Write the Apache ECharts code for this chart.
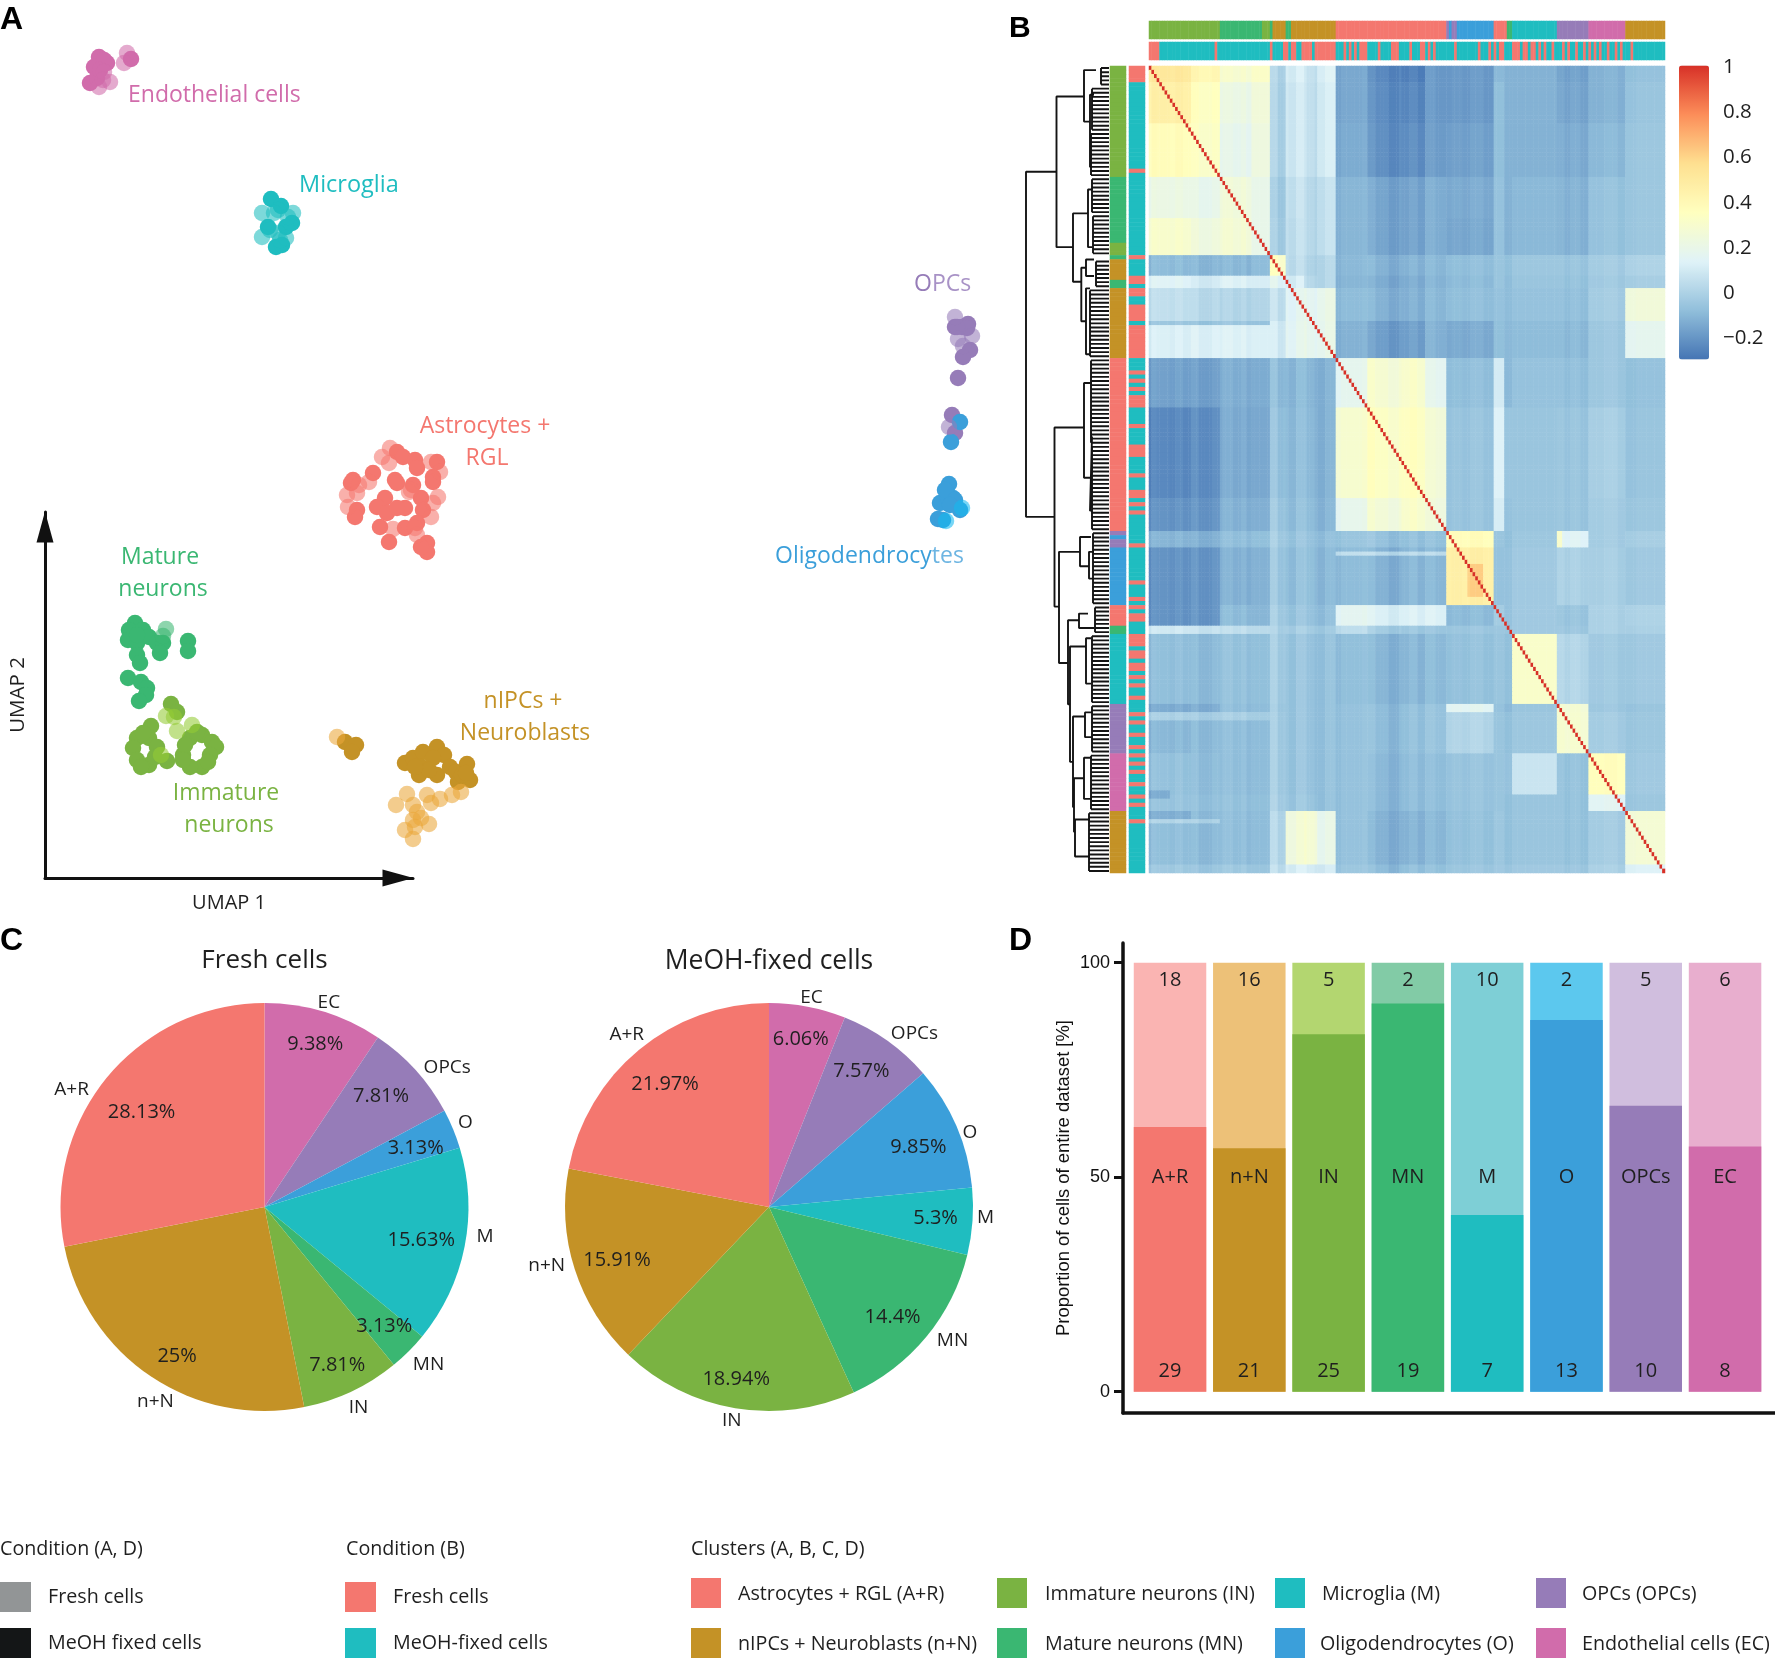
<!DOCTYPE html>
<html><head><meta charset="utf-8">
<style>html,body{margin:0;padding:0;background:#fff}#c{width:1775px;height:1658px}</style>
<script src="https://cdn.jsdelivr.net/npm/echarts@6/dist/echarts.min.js"></script>
</head><body><div id="c"></div>
<script>
// ---------- colours ----------
const COL = {AR:'#F4776F',NN:'#C49226',IN:'#7AB342',MN:'#3AB772',M:'#1FBDC0',O:'#3B9FDA',OPC:'#967CB8',EC:'#D16CAB'};
const LIGHT = {AR:'#FAB4B2',NN:'#EDC178',IN:'#B3D670',MN:'#82CBA6',M:'#7ECFD6',O:'#5CC8EE',OPC:'#D0BEDE',EC:'#E8AECE'};
const SCATTER_FRESH = {AR:'#F4776F',NN:'#EBA73A',IN:'#95CC36',MN:'#3AB772',M:'#1FBDC0',O:'#14B8F0',OPC:'#967CB8',EC:'#D16CAB'};
// ---------- A: UMAP points (UMAP1, UMAP2) ----------
const ecMeoh=[[54,821],[62,815],[49,811],[45,795],[86,819],[52,800],[59,818],[55,808]];
const ecFresh=[[59,806],[65,796],[54,791],[82,825],[79,815],[58,798]];
const mMeoh=[[226,679],[236,672],[223,651],[247,655],[241,651],[231,631],[237,633]];
const mFresh=[[217,665],[233,668],[248,665],[217,641],[241,640],[233,645],[225,648],[243,661],[235,638],[229,665]];
const opcMeoh=[[910,551],[923,554],[917,551],[925,528],[918,521],[913,500],[907,463],[910,445],[922,550],[912,551]];
const opcFresh=[[910,561],[927,542],[913,539],[918,532],[904,451]];
const oMeoh=[[904,394],[902,385],[908,380],[895,375],[903,380],[915,368],[893,359],[898,358],[906,436],[915,456],[900,388],[910,378],[905,373]];
const oFresh=[[917,370],[901,357]];
const arMeoh=[[352,426],[358,421],[370,418],[372,410],[392,416],[328,405],[308,398],[350,398],[388,401],[306,395],[312,368],[310,361],[340,380],[332,371],[352,395],[368,393],[388,396],[376,380],[378,368],[360,370],[342,365],[335,351],[360,350],[372,355],[344,336],[382,335],[382,326],[376,331],[352,370]];
const arFresh=[[345,430],[337,421],[344,415],[386,416],[395,406],[302,383],[312,385],[303,371],[324,396],[364,386],[393,381],[386,361],[348,349],[372,343],[370,350],[314,393],[388,375],[366,388]];
const mnMeoh=[[90,255],[84,248],[98,248],[83,238],[92,235],[104,241],[112,235],[118,235],[115,225],[92,223],[95,215],[143,237],[143,227],[83,200],[96,196],[102,190],[101,183],[94,177],[92,243]];
const mnFresh=[[121,249],[118,242]];
const inMeoh=[[126,174],[132,166],[106,152],[92,140],[104,140],[88,130],[112,131],[92,118],[104,113],[110,121],[122,117],[145,140],[157,143],[167,136],[171,131],[165,123],[157,111],[145,111],[138,123],[140,133],[152,146],[138,118],[163,116],[98,145],[96,111]];
const inFresh=[[121,162],[129,161],[132,147],[147,153],[116,123]];
const nnMeoh=[[300,136],[311,133],[307,126],[360,115],[368,120],[378,126],[392,131],[399,123],[376,111],[374,103],[392,103],[405,111],[411,106],[422,114],[413,96],[425,98],[388,120],[384,108],[417,103],[370,111],[421,105]];
const nnFresh=[[292,141],[362,84],[351,73],[368,73],[382,83],[386,75],[395,79],[407,83],[416,86],[372,66],[368,58],[384,54],[376,60],[360,48],[368,39],[370,51]];
// ---------- B: heatmap blocks ----------
const colEdges=[0,16,27,39,46,52,59,64,71,83,96,105,113,131,135,138,155,167,181,196];
const rowEdges=[0,4,14,27,37,46,51,54,62,71,83,105,113,117,131,136,138,155,157,167,177,181,194,196];
const blockValues=[
[.5,.41,.28,.33,-.02,.1,.06,.13,-.17,-.24,-.27,-.2,-.2,-.1,-.1,-.12,-.16,-.15,-.1],
[.45,.35,.2,.26,-.03,.08,.05,.11,-.17,-.23,-.25,-.2,-.2,-.08,-.1,-.12,-.15,-.15,-.09],
[.36,.33,.17,.24,-.03,.08,.05,.11,-.16,-.22,-.23,-.19,-.18,-.08,-.1,-.12,-.13,-.13,-.08],
[.2,.19,.24,.2,-.06,.05,.02,.06,-.13,-.16,-.17,-.14,-.15,-.07,-.1,-.1,-.11,-.1,-.08],
[.29,.24,.26,.2,-.05,.04,.02,.06,-.13,-.16,-.17,-.14,-.16,-.07,-.1,-.1,-.11,-.1,-.08],
[-.1,-.1,-.11,-.08,.3,.03,0,.02,-.12,-.12,-.12,-.11,-.09,-.06,-.06,-.05,-.05,-.06,-.03],
[.13,.1,.12,.12,.12,.1,.02,.02,-.13,-.14,-.14,-.12,-.1,-.06,-.07,-.06,-.06,-.07,-.05],
[.04,.03,0,.02,.03,.14,.16,.2,-.11,-.12,-.13,-.11,-.09,-.07,-.07,-.07,-.07,-.06,.22],
[.11,.13,.12,.13,.07,.15,.17,.19,-.14,-.18,-.18,-.13,-.15,-.08,-.08,-.09,-.09,-.08,.14],
[-.18,-.17,-.14,-.13,-.11,-.11,-.11,-.12,.15,.28,.3,.16,-.09,.1,-.08,-.07,-.07,-.08,-.1],
[-.25,-.22,-.15,-.14,-.09,-.1,-.1,-.12,.27,.33,.34,.25,-.07,.13,-.04,-.06,-.05,-.05,-.09],
[-.22,-.2,-.13,-.12,-.07,-.09,-.09,-.11,.16,.26,.3,.23,-.07,.11,-.05,-.06,-.05,-.06,-.08],
[-.12,-.12,-.09,-.07,-.05,-.07,-.07,-.08,-.08,-.07,-.08,-.08,.36,-.06,-.06,-.05,.15,-.06,-.05],
[-.22,-.2,-.13,-.11,-.07,-.09,-.08,-.1,-.11,-.12,-.11,-.11,.45,-.07,-.05,-.04,0,-.05,-.07],
[-.22,-.2,-.1,-.1,-.05,-.07,-.07,-.08,.14,.12,.12,.12,-.1,-.03,-.05,-.04,-.05,-.04,-.03],
[.08,.07,.04,.04,-.03,-.03,-.03,-.04,.02,-.03,-.05,-.06,-.06,-.05,-.04,-.04,-.04,-.04,-.04],
[-.09,-.09,-.08,-.07,-.05,-.07,-.07,-.07,-.1,-.11,-.11,-.1,-.08,-.06,-.06,.31,.02,-.07,-.07],
[-.15,-.13,-.09,-.08,-.06,-.07,-.07,-.07,-.09,-.09,-.08,-.07,.15,-.07,-.08,-.06,.28,-.08,-.09],
[-.11,-.09,-.09,-.08,-.05,-.07,-.07,-.07,-.09,-.09,-.08,-.07,0,-.06,-.06,-.05,.29,-.06,-.08],
[-.08,-.08,-.09,-.08,-.05,-.07,-.07,-.07,-.09,-.1,-.09,-.09,-.07,-.06,-.05,.07,-.06,.33,-.07],
[-.07,-.07,-.08,-.07,-.04,-.06,-.06,-.07,-.09,-.1,-.09,-.09,-.07,-.06,-.06,-.06,-.06,.12,-.08],
[-.09,-.09,-.09,-.08,-.01,.24,.27,.19,-.09,-.12,-.12,-.11,-.08,-.05,-.06,-.06,-.06,-.06,.24],
[-.05,-.05,-.05,-.05,.02,.1,.1,.1,-.07,-.09,-.08,-.08,-.06,-.04,-.04,-.04,-.04,-.04,.1]
];
const columnShadeRuns=[[1,-.02],[2,.02],[5,.01],[2,0],[3,.02],[3,0],[3,.01],[5,-.02],[4,0],[4,.02],[3,0],[2,.02],[9,-.01],[3,.05],[2,0],[2,.01],[3,-.01],[4,.03],[3,0],[4,-.02],[4,.01],[2,0],[8,.02],[5,.03],[5,0],[4,-.03],[3,0],
[1,0],[3,.02],[3,-.01],[4,.02],[6,0],[4,.01],[3,0],[5,.02],[8,0],[3,-.02],[17,0],[3,0],[2,-.02],[4,0],[3,-.02],[6,.03],[5,.04],[7,.02],[11,.03]];
// streaks and patches seen in the heatmap: [rowStart,rowEnd,colStart,colEnd,value]
const heatPatches=[[118,119,71,113,.03],[157,159,0,46,-.02],[183,184,0,27,0],[176,178,0,8,-.15],[181,183,0,16,-.14],[62,63,0,46,-.06],[121,129,121,127,.6],[113,117,155,157,.3]];
const diagonalValue=1;
const heatColors=['#4575B4','#91BFDB','#E0F3F8','#FFFFBF','#FEE090','#FC8D59','#D73027'];
const scaleTicks=['1','0.8','0.6','0.4','0.2','0','\u22120.2'];
const scaleTickValues=[1,.8,.6,.4,.2,0,-.2];
// cluster order along heatmap (run lengths)
const clusterRuns=[['IN',27],['MN',16],['IN',3],['MN',1],['NN',5],['MN',2],['NN',17],['AR',42],['OPC',1],['O',1],['OPC',2],['O',14],['AR',5],['MN',2],['M',17],['OPC',12],['EC',14],['NN',15]];
// condition along heatmap: alternating fresh/MeOH run lengths, starts with fresh
const conditionRuns=[4,21,1,20,1,4,2,1,2,2,4,1,8,3,1,1,1,1,1,1,3,4,1,4,3,4,1,3,2,1,1,1,1,7,1,8,1,3,1,1,1,1,2,3,3,1,2,1,2,1,1,1,1,2,1,3,1,1,1,2,1,2,1,1,1,1,1,1,1,2,1,2,1,1,1,3,1,12];
// dendrogram: [height, rowA, childHeightA, rowB, childHeightB]
const dendroNodes=[[83,25.7,52.5,109.5,54.5],[52.5,7.4,25,44,36],[25,1,13,13.5,19],[19,7,15,24.5,17],[36,35.8,21,52.4,27.7],[21,30,17,44,17],[27.7,49,23,62,23],[23,47,15,51,15],[23,54,19,70,19],[54.5,87.8,25,131.3,50],[25,77,17,100,19],[19,90,17,108,17],[50,118,29,145,41],[29,114.4,18,121.5,20],[20,118,15,124.5,15],[41,134.6,30,155,39],[30,133,21,136.5,15],[39,141,23,169,36],[23,139,18,150,18],[36,158,24,180,35],[24,157,17,163,17],[35,173,25,186,34],[25,168,17,178,17],[34,183,19,192,19]];
const combSpans=[[0,5,8],[5,16,17],[16,27,18],[27,36,17],[36,46,16],[47,54,13],[54,71,19],[71,92,18],[92,113,17],[113,131,16],[131,138,14],[138,155,17],[155,167,17],[167,181,18],[181,196,20]];
// ---------- C: pies ----------
const pieNames=['EC','OPCs','O','M','MN','IN','n+N','A+R'];
const pieKeys=['EC','OPC','O','M','MN','IN','NN','AR'];
const freshPct=[9.38,7.81,3.13,15.63,3.13,7.81,25,28.13];
const meohPct=[6.06,7.57,9.85,5.3,14.4,18.94,15.91,21.97];
const freshPctNudge=[[2,-2],[-8,2],[-4,6],[-8,0],[1,0],[1,6],[6,10],[7,12]];
const meohPctNudge=[[0,-3],[-5,1],[-5,6],[-1,-1],[-6,3],[-5,7],[8,2],[3,7]];
const freshNameNudge=[[-1,11],[16,12],[-7,2],[0,-14],[5,-2],[-2,-3],[16,8],[-19,25]];
const meohNameNudge=[[0,12],[15,10],[-6,14],[-8,-5],[10,-10],[0,-8],[-8,-10],[1,1]];
// ---------- D: bars ----------
const barNames=['A+R','n+N','IN','MN','M','O','OPCs','EC'];
const barKeys=['AR','NN','IN','MN','M','O','OPC','EC'];
const barMeoh=[29,21,25,19,7,13,10,8];
const barFresh=[18,16,5,2,10,2,5,6];
const barTicks=[0,50,100];

const FONT='"Open Sans"';
const TXT='#1f1f1f';

// ---------- helpers ----------
function txt(x,y,s,fill,size,align,extra){return Object.assign({type:'text',x,y,silent:true,style:{text:s,fill,font:size+'px '+FONT,textAlign:align||'left',textVerticalAlign:'middle'}},extra||{});}
function bold(x,y,s,size){return {type:'text',x,y,silent:true,style:{text:s,fill:'#000',font:'bold '+size+'px "Liberation Sans"',textAlign:'left',textVerticalAlign:'middle'}};}
function rect(x,y,w,h,c){return {type:'rect',shape:{x,y,width:w,height:h},style:{fill:c},silent:true};}
function twoTone(x,y,a,b,ca,cb,size){return {type:'text',x,y,silent:true,style:{text:'{a|'+a+'}{b|'+b+'}',textVerticalAlign:'middle',font:size+'px '+FONT,
  rich:{a:{fill:ca,font:size+'px '+FONT},b:{fill:cb,font:size+'px '+FONT}}}};}

// expand blocks
function bandIndex(edges,i){let k=0;while(i>=edges[k+1])k++;return k;}
const columnShade=[];columnShadeRuns.forEach(([n,s])=>{for(let i=0;i<n;i++)columnShade.push(s);});
const heatData=[];
for(let r=0;r<196;r++)for(let c=0;c<196;c++){
  let v=blockValues[bandIndex(rowEdges,r)][bandIndex(colEdges,c)];
  heatPatches.forEach(p=>{if(r>=p[0]&&r<p[1]&&c>=p[2]&&c<p[3])v=p[4];});
  v+=columnShade[c];
  if(r===c)v=diagonalValue;
  heatData.push([c,r,v]);
}
const clusterSeq=[];clusterRuns.forEach(([k,n])=>{for(let i=0;i<n;i++)clusterSeq.push(k);});
const condSeq=[];conditionRuns.forEach((n,j)=>{for(let i=0;i<n;i++)condSeq.push(j%2===0?COL.AR:COL.M);});
const idx=Array.from({length:196},(_,i)=>i);
function strip(seq,vertical,colorOf){return seq.map((k,i)=>({value:vertical?[0,i,1]:[i,0,1],itemStyle:{color:colorOf(k)}}));}

// dendrogram path
const dendro=[];
function seg(pts){pts.forEach(p=>dendro.push(p));dendro.push(['-','-']);}
dendroNodes.forEach(([h,ra,ha,rb,hb])=>seg([[ha,ra],[h,ra],[h,rb],[hb,rb]]));
combSpans.forEach(([a,b,h])=>{seg([[h,a+.5],[h,b-.5]]);for(let i=a;i<b;i++)seg([[0,i+.5],[h,i+.5]]);});

// UMAP series
function umap(data,key,fresh){return {type:'scatter',xAxisIndex:0,yAxisIndex:0,data,symbolSize:16.5,clip:false,z:fresh?3:2,silent:true,
  itemStyle:{color:fresh?SCATTER_FRESH[key]:COL[key],opacity:fresh?.58:1}};}
function pieBase(cx,vals){return {type:'pie',center:[cx,1207],radius:[0,204],startAngle:90,clockwise:true,silent:true,label:{show:false},labelLine:{show:false},
  data:vals.map((v,i)=>({value:v,name:pieNames[i],itemStyle:{color:COL[pieKeys[i]]}}))};}
function pieRing(cx,vals,r0,r1,fmt,size,nudge){return {type:'pie',center:[cx,1207],radius:[r0,r1],startAngle:90,clockwise:true,silent:true,z:5,avoidLabelOverlap:false,
  labelLine:{show:false},itemStyle:{color:'rgba(0,0,0,0)'},
  label:{show:true,position:'inside',formatter:fmt,color:TXT,fontFamily:FONT,fontSize:size},
  data:vals.map((v,i)=>({value:v,name:pieNames[i],label:{offset:nudge[i]}}))};}

const LEG=19.7, LAB=23;
const graphicEls=[
  bold(0,20,'A',32),bold(1009,29,'B',30),bold(0,941,'C',32),bold(1009,941,'D',32),
  txt(128,95,'Endothelial cells',COL.EC,LAB),
  txt(299,185,'Microglia',COL.M,23.5),
  txt(485,426,'Astrocytes +',COL.AR,LAB,'center'),txt(487,458,'RGL',COL.AR,LAB,'center'),
  twoTone(914,284,'O','PCs','#967CB8','#A892C6',LAB),
  twoTone(775,556,'Oligodendrocy','tes','#3B9FDA','#6DB5E2',LAB),
  txt(160,557,'Mature',COL.MN,LAB,'center'),txt(163,589,'neurons',COL.MN,LAB,'center'),
  txt(523,701,'nIPCs +',COL.NN,LAB,'center'),txt(525,733,'Neuroblasts',COL.NN,LAB,'center'),
  txt(226,793,'Immature',COL.IN,LAB,'center'),txt(229,825,'neurons',COL.IN,LAB,'center'),
  txt(264.5,961,'Fresh cells',TXT,26,'center'),txt(769,961,'MeOH-fixed cells',TXT,26.5,'center'),
  // legend
  txt(0,1549,'Condition (A, D)',TXT,LEG),txt(346,1549,'Condition (B)',TXT,LEG),txt(691,1549,'Clusters (A, B, C, D)',TXT,LEG),
  rect(0,1582,31,30,'#929596'),txt(48,1597,'Fresh cells',TXT,LEG),
  rect(0,1628,31,30,'#141617'),txt(48,1643,'MeOH fixed cells',TXT,LEG),
  rect(345,1582,31,30,COL.AR),txt(393,1597,'Fresh cells',TXT,LEG),
  rect(345,1628,31,30,COL.M),txt(393,1643,'MeOH-fixed cells',TXT,LEG),
  rect(691,1578,30,30,COL.AR),txt(738,1594,'Astrocytes + RGL (A+R)',TXT,LEG),
  rect(691,1628,30,30,COL.NN),txt(738,1644,'nIPCs + Neuroblasts (n+N)',TXT,LEG),
  rect(997,1578,30,30,COL.IN),txt(1045,1594,'Immature neurons (IN)',TXT,LEG),
  rect(997,1628,30,30,COL.MN),txt(1045,1644,'Mature neurons (MN)',TXT,LEG),
  rect(1275,1578,30,30,COL.M),txt(1322,1594,'Microglia (M)',TXT,LEG),
  rect(1275,1628,30,30,COL.O),txt(1320,1644,'Oligodendrocytes (O)',TXT,LEG),
  rect(1536,1578,30,30,COL.OPC),txt(1582,1594,'OPCs (OPCs)',TXT,LEG),
  rect(1536,1628,30,30,COL.EC),txt(1582,1644,'Endothelial cells (EC)',TXT,LEG)
];
scaleTickValues.forEach((v,i)=>graphicEls.push(txt(1723,67+(1-v)/1.3*294,scaleTicks[i],TXT,20.5)));

const hide={show:false};
const option={
  animation:false,backgroundColor:'#fff',textStyle:{fontFamily:FONT},
  grid:[
    {left:45,top:512,width:368,height:366},        // 0 UMAP
    {left:1149,top:66,width:516,height:807},       // 1 heat
    {left:1149,top:21,width:516,height:18},        // 2 top cluster
    {left:1149,top:42,width:516,height:18},        // 3 top condition
    {left:1110,top:66,width:16,height:807},        // 4 left cluster
    {left:1129,top:66,width:16,height:807},        // 5 left condition
    {left:1026,top:66,width:83,height:807},        // 6 dendro
    {left:1123,top:943,width:652,height:470}       // 7 bars
  ],
  xAxis:[
    {gridIndex:0,type:'value',min:0,max:368,name:'UMAP 1',nameLocation:'center',nameGap:15,nameTextStyle:{color:TXT,fontSize:20,fontFamily:FONT},
      axisLine:{show:true,onZero:false,lineStyle:{color:'#111',width:3},symbol:['none','triangle'],symbolSize:[17,31],symbolOffset:[0,-15]},axisTick:hide,axisLabel:hide,splitLine:hide},
    {gridIndex:1,type:'category',data:idx,show:false},
    {gridIndex:2,type:'category',data:idx,show:false},
    {gridIndex:3,type:'category',data:idx,show:false},
    {gridIndex:4,type:'category',data:[0],show:false},
    {gridIndex:5,type:'category',data:[0],show:false},
    {gridIndex:6,type:'value',min:0,max:83,inverse:true,show:false},
    {gridIndex:7,type:'value',min:-0.593,max:7.63,axisLine:{show:true,onZero:false,lineStyle:{color:'#111',width:3.5}},axisTick:hide,axisLabel:hide,splitLine:hide}
  ],
  yAxis:[
    {gridIndex:0,type:'value',min:0,max:366,name:'UMAP 2',nameLocation:'center',nameGap:16,nameTextStyle:{color:TXT,fontSize:20.5,fontFamily:FONT},
      axisLine:{show:true,onZero:false,lineStyle:{color:'#111',width:3},symbol:['none','triangle'],symbolSize:[17,31],symbolOffset:[0,-15]},axisTick:hide,axisLabel:hide,splitLine:hide},
    {gridIndex:1,type:'category',data:idx,inverse:true,show:false},
    {gridIndex:2,type:'category',data:[0],show:false},
    {gridIndex:3,type:'category',data:[0],show:false},
    {gridIndex:4,type:'category',data:idx,inverse:true,show:false},
    {gridIndex:5,type:'category',data:idx,inverse:true,show:false},
    {gridIndex:6,type:'value',min:0,max:196,inverse:true,show:false},
    {gridIndex:7,type:'value',min:-4.96,max:104.6,name:'Proportion of cells of entire dataset [%]',nameLocation:'center',nameGap:50,
      nameTextStyle:{color:'#111',fontSize:18.4,fontFamily:'"Liberation Sans"'},
      axisLine:{show:true,onZero:false,lineStyle:{color:'#111',width:3.5}},
      axisTick:{show:true,length:9,lineStyle:{color:'#111',width:3},customValues:barTicks},
      axisLabel:{show:true,color:'#111',fontSize:18,fontFamily:'"Liberation Sans"',margin:13,customValues:barTicks},splitLine:hide}
  ],
  visualMap:[{type:'continuous',seriesIndex:0,min:-.3,max:1,calculable:false,left:1664,top:50.4,itemWidth:30,itemHeight:294,text:null,showLabel:false,
    textStyle:{color:'rgba(0,0,0,0)',fontSize:1},inRange:{color:heatColors},realtime:false,hoverLink:false}],
  series:[
    {type:'heatmap',xAxisIndex:1,yAxisIndex:1,data:heatData,progressive:0,silent:true},
    {type:'heatmap',xAxisIndex:2,yAxisIndex:2,data:strip(clusterSeq,false,k=>COL[k]),progressive:0,silent:true},
    {type:'heatmap',xAxisIndex:3,yAxisIndex:3,data:strip(condSeq,false,c=>c),progressive:0,silent:true},
    {type:'heatmap',xAxisIndex:4,yAxisIndex:4,data:strip(clusterSeq,true,k=>COL[k]),progressive:0,silent:true},
    {type:'heatmap',xAxisIndex:5,yAxisIndex:5,data:strip(condSeq,true,c=>c),progressive:0,silent:true},
    {type:'line',xAxisIndex:6,yAxisIndex:6,data:dendro,showSymbol:false,connectNulls:false,clip:false,silent:true,lineStyle:{color:'#141414',width:1.9}},
    umap(ecMeoh,'EC'),umap(ecFresh,'EC',1),umap(mMeoh,'M'),umap(mFresh,'M',1),umap(opcMeoh,'OPC'),umap(opcFresh,'OPC',1),
    umap(oMeoh,'O'),umap(oFresh,'O',1),umap(arMeoh,'AR'),umap(arFresh,'AR',1),umap(mnMeoh,'MN'),umap(mnFresh,'MN',1),
    umap(inMeoh,'IN'),umap(inFresh,'IN',1),umap(nnMeoh,'NN'),umap(nnFresh,'NN',1),
    pieBase(264.5,freshPct),pieRing(264.5,freshPct,126,204,'{c}%',20,freshPctNudge),pieRing(264.5,freshPct,200,244,'{b}',19,freshNameNudge),
    pieBase(769,meohPct),pieRing(769,meohPct,126,204,'{c}%',20,meohPctNudge),pieRing(769,meohPct,200,244,'{b}',19,meohNameNudge),
    // full bar (both conditions) behind, MeOH-fixed share in front
    {type:'bar',xAxisIndex:7,yAxisIndex:7,barWidth:72.5,barGap:'-100%',silent:true,z:2,
      data:barFresh.map((n,i)=>({value:[i,100],itemStyle:{color:LIGHT[barKeys[i]]},
        label:{show:true,position:'insideTop',distance:8,formatter:String(n),color:TXT,fontSize:20,fontFamily:FONT}}))},
    {type:'bar',xAxisIndex:7,yAxisIndex:7,barWidth:72.5,barGap:'-100%',silent:true,z:3,
      data:barMeoh.map((n,i)=>({value:[i,100*n/(n+barFresh[i])],itemStyle:{color:COL[barKeys[i]]},
        label:{show:true,position:'insideBottom',distance:10,formatter:String(n),color:TXT,fontSize:20,fontFamily:FONT}}))},
    {type:'scatter',xAxisIndex:7,yAxisIndex:7,symbolSize:0,silent:true,z:6,itemStyle:{opacity:1},
      data:barNames.map((s,i)=>({value:[i,50],label:{show:true,position:'inside',formatter:s,color:TXT,fontSize:20,fontFamily:FONT}}))}
  ],
  graphic:graphicEls
};
const chart=echarts.init(document.getElementById('c'),null,{renderer:'canvas'});
chart.setOption(option);
</script></body></html>
